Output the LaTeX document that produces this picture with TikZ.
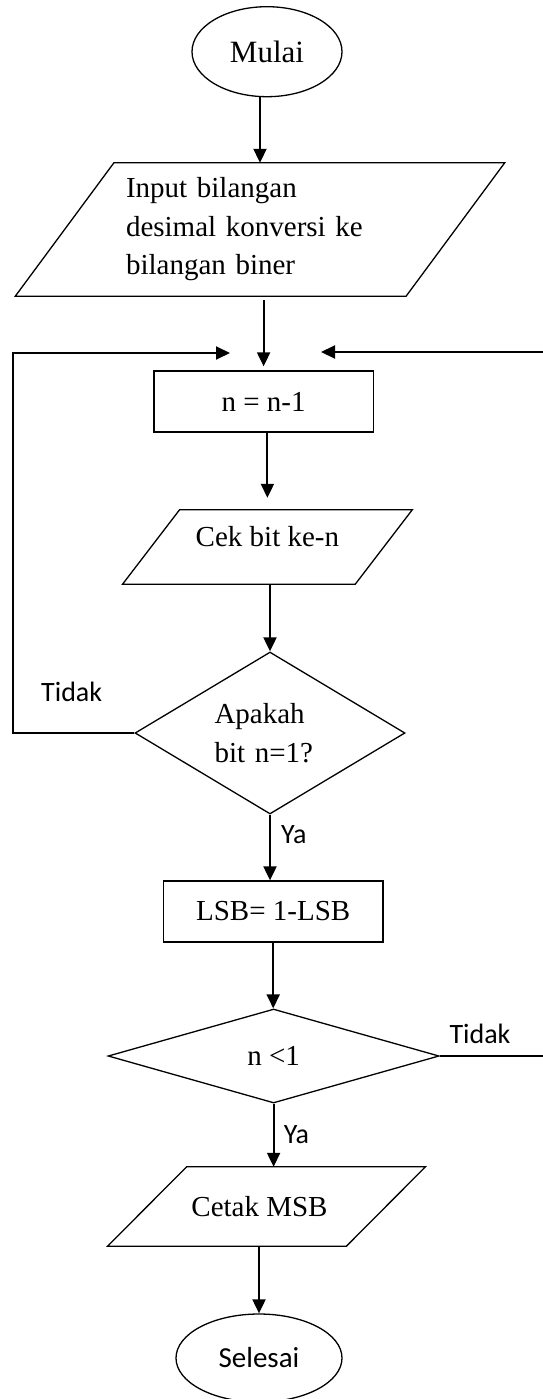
\documentclass[tikz,border=0pt]{standalone}
\usepackage{fontspec}
\setmainfont{Liberation Serif}
\newfontfamily\labfont{Carlito}
\usetikzlibrary{arrows.meta,shapes.geometric}
\tikzset{
  body/.style={font=\fontsize{29}{38.5}\selectfont},
  term/.style={ellipse, draw, line width=1.3pt, inner sep=0pt},
  procbox/.style={rectangle, draw, line width=1.3pt, inner sep=0pt, body},
  iobox/.style={rectangle, inner sep=0pt, body},
  decision/.style={diamond, draw, line width=1.3pt, inner sep=0pt, body},
  outline/.style={line width=1.3pt, line join=miter},
  arr/.style={line width=2pt, -{Triangle[length=14pt,width=13pt]}},
  lab/.style={font=\labfont\fontsize{28}{30}\selectfont, inner sep=0pt},
}
% parallelogram drawn around a node: #1 node name, #2 horizontal slant
\newcommand{\slantbox}[2]{%
  \draw[outline] ([xshift=#2]#1.north west) -- (#1.north east)
    -- ([xshift=-#2]#1.south east) -- (#1.south west) -- cycle;}

\begin{document}
\begin{tikzpicture}[x=1pt,y=-1pt]
\useasboundingbox (0,0) rectangle (542,1399);

% nodes
\node[term, minimum width=150pt, minimum height=90pt,
      font=\fontsize{31}{33}\selectfont] (start) at (267,51.7) {Mulai};
\node[iobox, minimum width=489pt, minimum height=133pt, text width=268pt,
      align=left] (in) at (260,229.5)
      {Input bilangan\\desimal konversi ke\\bilangan biner};
\slantbox{in}{98.6pt}
\node[procbox, minimum width=219.5pt, minimum height=61pt] (dec) at (263.6,401.5) {n = n-1};
\node[iobox, minimum width=289.3pt, minimum height=74pt] (chk) at (267.4,547)
      {\raisebox{10pt}[19pt][0pt]{Cek bit ke-n}};
\slantbox{chk}{57pt}
\node[decision, minimum width=270pt, minimum height=162pt, aspect=1.667,
      text width=111pt, align=left] (bit) at (270,733) {Apakah\\bit n=1?};
\node[procbox, minimum width=219.5pt, minimum height=61pt] (lsb) at (273.2,911.5) {LSB= 1-LSB};
\node[decision, minimum width=331pt, minimum height=94pt, aspect=3.5] (last) at (273.6,1056) {n <1};
\node[iobox, minimum width=317.4pt, minimum height=79pt] (out) at (266.5,1206.5)
      {Cetak MSB\hspace*{14pt}};
\slantbox{out}{79pt}
\node[term, minimum width=166pt, minimum height=88pt,
      font=\labfont\fontsize{29}{31}\selectfont] (stop) at (259,1358) {Selesai};

% branch labels
\node[lab] (tidak1) at (71.7,692) {Tidak};
\node[lab] (ya1) at (293.8,835) {Ya};
\node[lab] (tidak2) at (480,1034) {Tidak};
\node[lab] (ya2) at (296.4,1135) {Ya};

% loop entry points above the decrement box
\coordinate (mergeL) at (230,353);
\coordinate (mergeR) at (321,352);

% main flow
\draw[arr] (start.south -| in.north) -- (in.north);
\draw[arr, shorten <=4pt, shorten >=4pt] (dec.north |- in.south) -- (dec.north);
\draw[arr, shorten >=12pt] (chk.north |- dec.south) -- (chk.north);
\draw[arr] (bit.north |- chk.south) -- (bit.north);
\draw[arr] (bit.south) -- (bit.south |- lsb.north);
\draw[arr] (lsb.south) -- (lsb.south |- last.north);
\draw[arr] (last.south) -- (last.south |- out.north);
\draw[arr] (stop.north |- out.south) -- (stop.north);

% loops back
\draw[arr] (bit.west) -- ++(-121,0) |- (mergeL);
\draw[arr] (last.east) -- ++(109,0) |- (mergeR);
\end{tikzpicture}
\end{document}
